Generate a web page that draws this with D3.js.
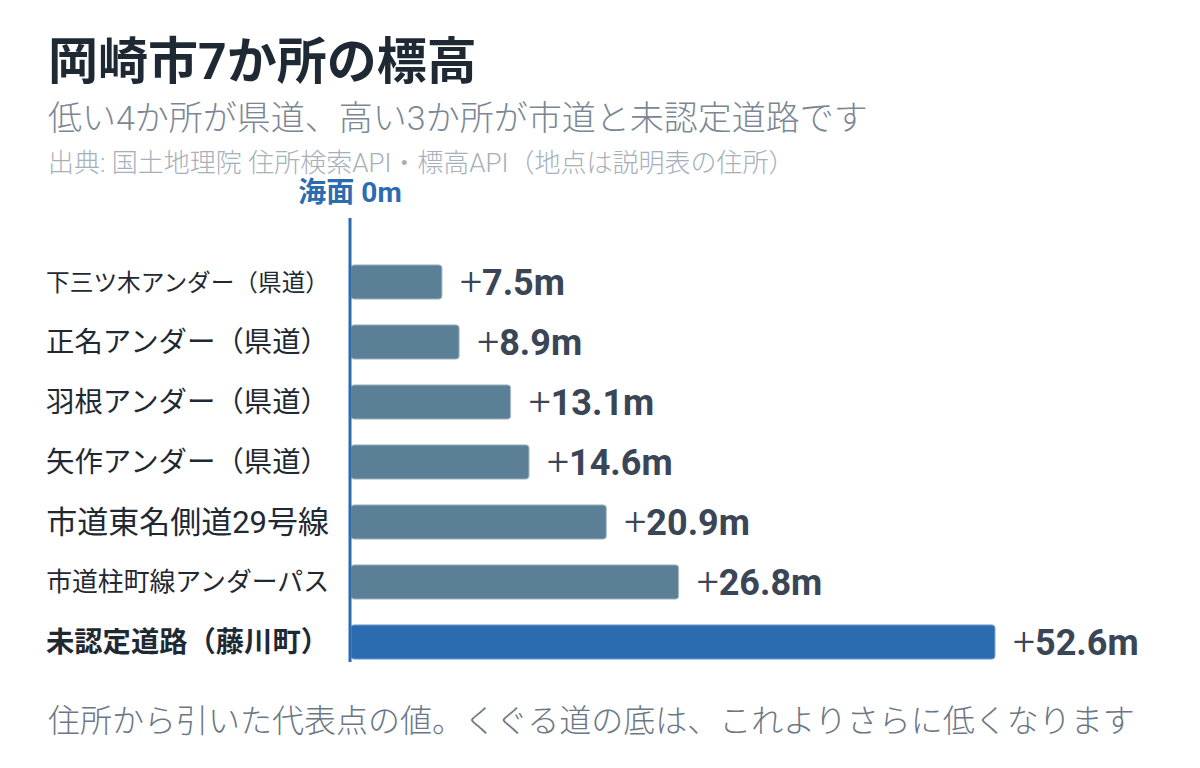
<!DOCTYPE html>
<html>
<head>
<meta charset="utf-8">
<script src="https://cdn.jsdelivr.net/npm/d3@7"></script>
<style>
  html, body { margin: 0; padding: 0; background: #fff; }
  svg { display: block; font-family: Roboto, "Noto Sans CJK JP", sans-serif; }
</style>
</head>
<body>
<svg id="chart"></svg>
<script>
const places = ['下三ツ木アンダー（県道）', '正名アンダー（県道）', '羽根アンダー（県道）', '矢作アンダー（県道）',
  '市道東名側道29号線', '市道柱町線アンダーパス', '未認定道路（藤川町）'];
const elevations = [7.5, 8.9, 13.1, 14.6, 20.9, 26.8, 52.6];
const highlight = ['未認定道路（藤川町）'];

const titleText = '岡崎市7か所の標高';
const subtitleText = '低い4か所が県道、高い3か所が市道と未認定道路です';
const sourceText = '出典: 国土地理院 住所検索API・標高API（地点は説明表の住所）';
const axisLabel = '海面 0m';
const noteText = '住所から引いた代表点の値。くぐる道の底は、これよりさらに低くなります';

const width = 1200;
const height = 768;

const svg = d3.select('#chart')
  .attr('width', width)
  .attr('height', height);

svg.append('text')
  .attr('x', 48).attr('y', 79)
  .attr('font-size', 50).attr('font-weight', 700)
  .attr('fill', '#1f2933')
  .text(titleText);

svg.append('text')
  .attr('x', 48).attr('y', 130)
  .attr('font-size', 34).attr('font-weight', 300)
  .attr('fill', '#7b8794')
  .text(subtitleText);

svg.append('text')
  .attr('x', 48).attr('y', 172)
  .attr('font-size', 26).attr('font-weight', 300)
  .attr('fill', '#a6b0bb')
  .text(sourceText);

const x = d3.scaleLinear()
  .domain([0, d3.max(elevations)])
  .range([350, 995]);

const y = d3.scaleBand()
  .domain(places)
  .range([252, 672])
  .paddingInner(0.43)
  .paddingOuter(0.215);

const data = places.map((p, i) => ({ place: p, value: elevations[i], hi: highlight.includes(p) }));

// bars
svg.append('g')
  .selectAll('rect')
  .data(data)
  .enter().append('rect')
  .attr('x', x(0) + 1)
  .attr('y', d => y(d.place))
  .attr('width', d => x(d.value) - x(0) - 1)
  .attr('height', y.bandwidth())
  .attr('rx', 3)
  .attr('fill', d => d.hi ? '#2b6cb0' : '#5b7f95')
  .attr('stroke', d => d.hi ? '#7fa6d3' : '#a9bcc8')
  .attr('stroke-width', 1);

// zero line
svg.append('line')
  .attr('x1', x(0)).attr('x2', x(0))
  .attr('y1', 218).attr('y2', 662)
  .attr('stroke', '#2b6cb0')
  .attr('stroke-width', 3);

svg.append('text')
  .attr('x', x(0)).attr('y', 202)
  .attr('text-anchor', 'middle')
  .attr('font-size', 28).attr('font-weight', 700)
  .attr('fill', '#2b6cb0')
  .text(axisLabel);

// category labels, shrunk/grown to a common width
const labels = svg.append('g')
  .selectAll('text')
  .data(data)
  .enter().append('text')
  .attr('x', 329)
  .attr('y', d => y(d.place) + y.bandwidth() / 2)
  .attr('dy', '0.36em')
  .attr('text-anchor', 'end')
  .attr('font-size', 100)
  .attr('font-weight', d => d.hi ? 700 : 400)
  .attr('fill', '#1f2933')
  .text(d => d.place);

labels.each(function() {
  const w = this.getComputedTextLength();
  const size = Math.min(32, 100 * 283 / w);
  d3.select(this).attr('font-size', size);
});

// value labels
const values = svg.append('g')
  .selectAll('text')
  .data(data)
  .enter().append('text')
  .attr('x', d => x(d.value) + 18)
  .attr('y', d => y(d.place) + y.bandwidth() / 2)
  .attr('dy', 13)
  .attr('font-size', 36)
  .attr('fill', '#3a4556');

values.append('tspan')
  .attr('font-size', 39)
  .attr('font-weight', 300)
  .text('+');
values.append('tspan')
  .attr('font-weight', 700)
  .text(d => d3.format('.1f')(d.value) + 'm');

svg.append('text')
  .attr('x', 48).attr('y', 732)
  .attr('font-size', 32).attr('font-weight', 300)
  .attr('fill', '#6b7785')
  .text(noteText);
</script>
</body>
</html>
